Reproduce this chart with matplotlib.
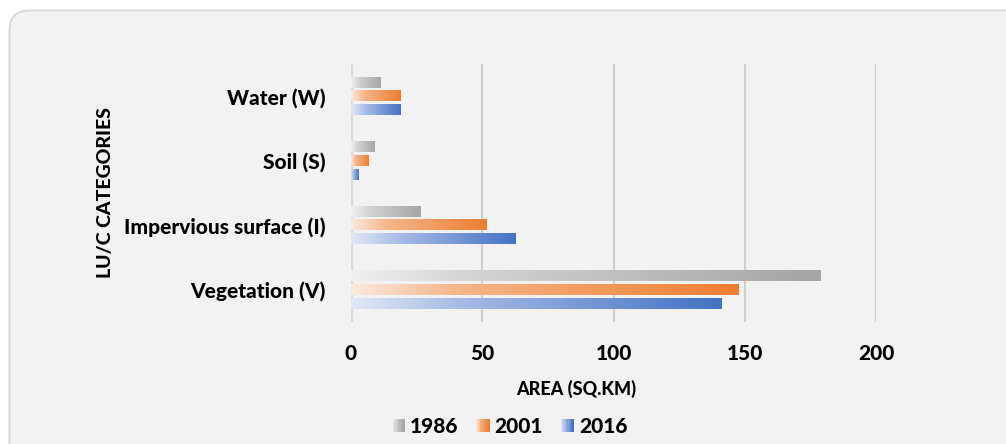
import numpy as np
import matplotlib
matplotlib.use("Agg")
import matplotlib.pyplot as plt
from matplotlib.colors import LinearSegmentedColormap
from matplotlib.patches import FancyBboxPatch, Rectangle
from matplotlib.transforms import IdentityTransform
from matplotlib.legend_handler import HandlerBase

# Land use / land cover area by year (sq. km)
categories = ["Vegetation (V)", "Impervious surface (I)", "Soil (S)", "Water (W)"]
years = ["1986", "2001", "2016"]
area_1986 = [179.0, 26.3, 8.8, 11.4]
area_2001 = [147.8, 51.8, 6.5, 19.0]
area_2016 = [141.0, 62.5, 3.0, 18.7]
x_ticks = [0, 50, 100, 150, 200]

series = [area_1986, area_2001, area_2016]
gradients = [
    ["#f1f1f1", "#d2d2d2", "#a5a5a5"],
    ["#fbeadf", "#f5b588", "#ed7d31"],
    ["#e2e8f4", "#a9bde6", "#4472c4"],
]
cmaps = [LinearSegmentedColormap.from_list(f"g{i}", list(zip([0, 0.28, 1], c)))
         for i, c in enumerate(gradients)]

WEIGHT = 900
plt.rcParams["font.family"] = ["Lato", "DejaVu Sans"]
plt.rcParams["font.weight"] = WEIGHT

W, H = 1006, 444
fig = plt.figure(figsize=(W / 100, H / 100), dpi=100, facecolor="white")

# rounded chart-area panel
panel = FancyBboxPatch((9.5, -60), 1080, H - 10 + 60 - 0.5,
                       boxstyle="round,pad=0,rounding_size=20",
                       transform=IdentityTransform(), facecolor="#f2f2f2",
                       edgecolor="#d9d9d9", linewidth=1.5, zorder=-10)
fig.patches.append(panel)

ax = fig.add_axes([351 / W, 1 - 322 / H, (876 - 351) / W, (322 - 64) / H])
ax.set_facecolor("none")

y = np.arange(len(categories))
offsets = [0.215, 0.0, -0.215]
bar_h = 0.16
grad = np.linspace(0, 1, 256).reshape(1, -1)
for vals, off, cmap in zip(series, offsets, cmaps):
    bars = ax.barh(y + off, vals, height=bar_h, color="none", edgecolor="none")
    for p in bars.patches:
        x0, y0 = p.get_x(), p.get_y()
        ax.imshow(grad, cmap=cmap, aspect="auto", interpolation="bilinear",
                  extent=[x0, x0 + p.get_width(), y0, y0 + p.get_height()],
                  zorder=3)

ax.set_xlim(0, 200)
ax.set_ylim(-0.5, len(categories) - 0.5)
ax.set_xticks(x_ticks)
ax.set_xticklabels([str(t) for t in x_ticks])
ax.set_yticks(y)
ax.set_yticklabels(categories)
ax.tick_params(length=0, labelsize=15, colors="#000000")
ax.tick_params(axis="x", pad=16)
ax.tick_params(axis="y", pad=18)
for lbl in ax.get_xticklabels() + ax.get_yticklabels():
    lbl.set_fontweight(WEIGHT)
for s in ax.spines.values():
    s.set_visible(False)
ax.grid(axis="x", color="#cfcfcf", linewidth=1.5, zorder=1)
ax.set_axisbelow(True)
ax.axvline(0, color="#d9d9d9", linewidth=3, zorder=2)

ax.set_xlabel("AREA (SQ.KM)", fontsize=13, fontweight=WEIGHT, labelpad=12)
ax.xaxis.label.set_x((576 - 351) / (876 - 351))
fig.text(105 / W, 1 - 193 / H, "LU/C CATEGORIES", rotation=90, fontsize=14,
         fontweight=WEIGHT, ha="center", va="center")


class GradientHandler(HandlerBase):
    def __init__(self, cmap):
        super().__init__()
        self.cmap = cmap

    def create_artists(self, legend, orig_handle, xdescent, ydescent,
                       width, height, fontsize, trans):
        n = 10
        arts = []
        for k in range(n):
            r = Rectangle((-xdescent + width * k / n, -ydescent), width / n + 0.3,
                          height, facecolor=self.cmap(k / (n - 1)),
                          edgecolor="none", transform=trans)
            arts.append(r)
        return arts


handles = [Rectangle((0, 0), 1, 1) for _ in years]
leg = fig.legend(handles, years, loc="center", bbox_to_anchor=(0.5065, 1 - 426 / H),
                 ncol=3, frameon=False, fontsize=15, handlelength=0.63,
                 handleheight=0.6, handletextpad=0.25, columnspacing=0.85,
                 handler_map={h: GradientHandler(c) for h, c in zip(handles, cmaps)})
for t in leg.get_texts():
    t.set_fontweight(WEIGHT)

fig.savefig("out.png", dpi=100, facecolor="white")
